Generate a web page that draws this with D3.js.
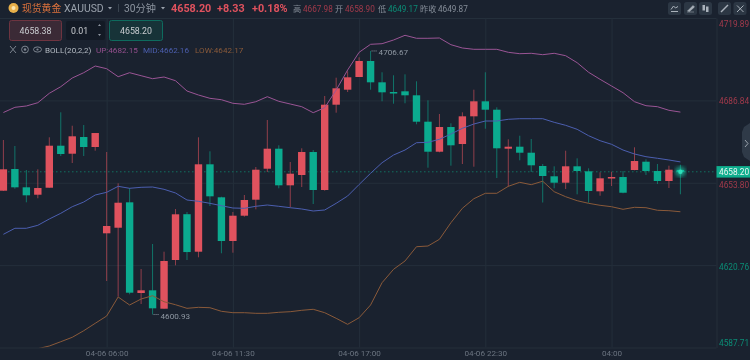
<!DOCTYPE html>
<html>
<head>
<meta charset="utf-8">
<script src="https://cdn.jsdelivr.net/npm/d3@7"></script>
<style>
html, body { margin: 0; padding: 0; background: #1a222f; overflow: hidden; }
svg { display: block; filter: blur(0.3px); }
text { font-family: Roboto, "Noto Sans CJK SC", sans-serif; }
</style>
</head>
<body>
<svg id="chart" width="750" height="360"></svg>
<script>
const opens = [4650.61,4659.31,4651.97,4649.0,4651.81,4668.66,4665.45,4672.15,4668.14,4633.52,4635.76,4645.95,4609.57,4610.65,4603.27,4622.81,4641.18,4626.14,4661.2,4647.96,4630.43,4640.58,4647.0,4659.43,4667.46,4652.77,4656.91,4666.13,4650.89,4685.11,4691.13,4696.22,4702.64,4694.09,4690.2,4690.48,4688.88,4678.29,4666.25,4676.16,4669.34,4680.45,4686.47,4683.1,4667.46,4668.26,4665.85,4660.52,4656.39,4653.82,4660.4,4658.39,4650.37,4655.7,4656.1,4658.91,4662.24,4658.51,4654.5,4658.9];
const highs = [4670.95,4668.54,4658.91,4659.19,4672.03,4682.06,4676.68,4676.96,4673.75,4666.13,4653.58,4651.69,4619.2,4629.23,4626.14,4643.27,4642.06,4672.03,4666.41,4648.2,4642.06,4648.88,4660.12,4678.97,4668.82,4662.12,4667.62,4666.93,4688.6,4695.94,4698.51,4704.12,4706.67,4698.11,4696.9,4697.3,4694.49,4686.87,4681.38,4677.65,4682.06,4691.13,4698.11,4684.06,4671.23,4672.67,4671.35,4661.32,4660.4,4666.65,4663.6,4659.59,4657.99,4658.23,4658.51,4668.02,4663.2,4661.32,4660.64,4661.04];
const lows = [4650.49,4651.41,4645.95,4647.56,4651.81,4664.53,4661.72,4664.53,4666.65,4614.38,4608.09,4609.05,4605.15,4600.93,4603.27,4620.68,4622.81,4623.89,4644.47,4625.5,4625.74,4640.18,4643.15,4658.11,4651.57,4643.95,4652.09,4645.27,4650.61,4681.9,4690.2,4696.22,4691.13,4686.47,4685.51,4685.67,4677.25,4659.84,4666.01,4660.64,4661.32,4660.24,4675.48,4655.7,4652.21,4662.8,4658.11,4645.87,4651.57,4651.29,4649.16,4645.79,4648.6,4652.49,4649.56,4658.79,4656.91,4653.3,4651.69,4649.17];
const closes = [4659.19,4651.97,4648.76,4651.69,4668.66,4665.33,4672.43,4668.14,4673.75,4636.45,4645.79,4609.69,4610.65,4603.43,4622.41,4641.14,4626.0,4661.2,4648.36,4630.43,4640.58,4646.88,4659.03,4667.46,4652.77,4657.43,4666.13,4650.89,4685.11,4691.69,4696.1,4702.64,4694.09,4690.08,4689.8,4688.88,4678.29,4666.25,4676.16,4668.82,4680.45,4686.47,4683.1,4667.62,4668.26,4665.85,4660.8,4656.51,4653.82,4660.4,4658.51,4650.49,4655.58,4656.1,4649.8,4662.52,4658.51,4654.5,4659.03,4658.2];
const bollUp = [4681.98,4684.06,4684.59,4685.91,4689.68,4692.33,4695.82,4697.95,4700.63,4699.55,4696.34,4697.95,4696.74,4695.54,4696.22,4694.73,4690.6,4689,4687.67,4687.11,4685.67,4685.27,4686.31,4688.32,4686.47,4685.39,4684.31,4681.9,4683.9,4691.0,4699.03,4706.13,4709.34,4709.58,4711.06,4712.95,4711.75,4711.75,4711.87,4709.18,4707.85,4707.33,4707.33,4707.33,4706.13,4705.57,4705.73,4705.17,4705.73,4704.77,4701.96,4698.11,4695.3,4692.61,4689.92,4686.31,4684.71,4684.31,4682.86,4682.15];
const bollMid = [4633.12,4635.53,4635.53,4636.73,4639.26,4641.54,4644.19,4646.07,4648.88,4649.97,4652.37,4651.57,4651.97,4652.09,4651.17,4649.69,4646.88,4646.36,4645.55,4644.59,4643.67,4643.55,4644.35,4644.87,4644.35,4643.79,4643.27,4642.47,4642.87,4645.55,4648.48,4653.1,4657.59,4661.84,4664.93,4666.93,4669.86,4670.02,4671.23,4673.35,4675.64,4677.36,4678.57,4678.57,4679.25,4679.49,4679.49,4679.49,4678.05,4676.84,4675.24,4672.67,4670.67,4669.22,4666.93,4665.33,4664.25,4663.61,4662.93,4662.16];
const bollLow = [4582.69,4584.3,4585.9,4587.23,4588.31,4590.03,4591.8,4594.44,4597.41,4600.34,4607.97,4604.76,4607.16,4608.49,4606.08,4604.87,4603.43,4603.83,4603.67,4602.23,4601.67,4601.67,4601.42,4601.42,4601.83,4602.07,4602.63,4603.03,4601.67,4599.42,4597.0,4599.66,4604.76,4613.7,4619.08,4622.41,4628.14,4628.42,4631.11,4637.77,4643.55,4647.4,4649.57,4649.57,4652.37,4653.98,4653.02,4654.42,4650.21,4648.2,4646.6,4645.55,4644.75,4644.19,4643.15,4643.95,4643.79,4642.75,4642.59,4642.17];

const priceTicks = [4719.89, 4686.84, 4653.80, 4620.76, 4587.71];
const priceTickColors = ["#a23a4b", "#a23a4b", "#a23a4b", "#0b8c75", "#0b8c75"];
const priceTickShift = [8.5, 3.5, 4.5, 4.5, -2];
const timeTickIndex = [9, 20, 31, 42, 53];
const timeTickLabels = ["04-06 06:00", "04-06 11:30", "04-06 17:00", "04-06 22:30", "04:00"];
const lastPrice = 4658.20;
const highMark = { index: 32, price: 4706.67 };
const lowMark = { index: 13, price: 4600.93 };

const RED = "#e0525e", GREEN = "#0bab8f", GRID = "#242f3b";

const svg = d3.select("#chart");
const plotRight = 716.5, plotTop = 18, plotBottom = 347.5;

const x = d3.scaleLinear().domain([0, 59]).range([3.4, 680.4]);
const y = d3.scaleLinear().domain([4587.71, 4719.89]).range([plotBottom, plotTop]);

// grid + axes
const yAxis = svg.append("g")
    .attr("transform", `translate(${plotRight},0)`)
    .call(d3.axisRight(y).tickValues(priceTicks).tickSize(0).tickPadding(2.5).tickFormat(d3.format(".2f")));
yAxis.select(".domain").attr("stroke", GRID);
yAxis.selectAll(".tick line").attr("x2", -plotRight).attr("stroke", GRID);
yAxis.selectAll(".tick text")
    .attr("fill", (d, i) => priceTickColors[i])
    .style("font-size", "8.3px")
    .attr("dy", (d, i) => priceTickShift[i]);

const xAxis = svg.append("g")
    .attr("transform", `translate(0,${plotBottom})`)
    .call(d3.axisBottom(x).tickValues(timeTickIndex).tickSize(0).tickPadding(3).tickFormat((d, i) => timeTickLabels[i]));
xAxis.select(".domain").remove();
xAxis.selectAll(".tick line").attr("y2", plotTop - plotBottom).attr("stroke", GRID);
xAxis.selectAll(".tick text").attr("fill", "#6b7480").style("font-size", "8.1px");

svg.append("clipPath").attr("id", "plot-clip")
    .append("rect").attr("x", 0).attr("y", plotTop).attr("width", plotRight).attr("height", plotBottom - plotTop);

const g = svg.append("g").attr("clip-path", "url(#plot-clip)");

// last price dotted line
g.append("line")
    .attr("x1", 0).attr("x2", plotRight)
    .attr("y1", y(lastPrice)).attr("y2", y(lastPrice))
    .attr("stroke", "#12705f").attr("stroke-dasharray", "1.5,2.5");

// candles
const candles = d3.range(opens.length);
const color = i => closes[i] >= opens[i] ? RED : GREEN;

g.selectAll(".wick").data(candles).enter().append("line")
    .attr("class", "wick")
    .attr("x1", d => x(d)).attr("x2", d => x(d))
    .attr("y1", d => y(highs[d])).attr("y2", d => y(lows[d]))
    .attr("stroke", color).attr("stroke-opacity", 0.6);

g.selectAll(".body").data(candles).enter().append("rect")
    .attr("class", "body")
    .attr("x", d => x(d) - 3.7)
    .attr("width", 7.4)
    .attr("y", d => y(Math.max(opens[d], closes[d])))
    .attr("height", d => Math.max(1.5, Math.abs(y(opens[d]) - y(closes[d]))))
    .attr("fill", color);

// bollinger lines
const line = d3.line().x((d, i) => x(i)).y(d => y(d));
[[bollUp, "#9a5595"], [bollMid, "#4c5fb0"], [bollLow, "#8a5a3a"]].forEach(([vals, c]) => {
    g.append("path").attr("d", line(vals)).attr("fill", "none").attr("stroke", c).attr("stroke-width", 1);
});

// glow on the live candle
const defs = svg.append("defs");
defs.append("filter").attr("id", "glow").append("feGaussianBlur").attr("stdDeviation", 2);
svg.append("circle").attr("cx", x(59)).attr("cy", y(lastPrice)).attr("r", 5)
    .attr("fill", "#19d6ae").attr("opacity", 0.7).attr("filter", "url(#glow)");
svg.append("circle").attr("cx", x(59)).attr("cy", y(lastPrice)).attr("r", 2.2).attr("fill", "#2fe0bb");

// high / low marks
function mark(m) {
    const px = x(m.index), py = y(m.price);
    svg.append("line").attr("x1", px + 1).attr("x2", px + 7).attr("y1", py).attr("y2", py)
        .attr("stroke", "#8c95a0").attr("stroke-dasharray", "1,1");
    svg.append("text").attr("x", px + 8).attr("y", py + 4.2).attr("fill", "#8f98a3")
        .style("font-size", "8.1px").text(m.price.toFixed(2));
}
mark(highMark);
mark(lowMark);

// price tag
svg.append("rect").attr("x", plotRight).attr("y", y(lastPrice) - 5.7).attr("width", 34).attr("height", 11.5).attr("fill", "#0fae8e");
svg.append("text").attr("x", 719).attr("y", y(lastPrice) + 3).attr("fill", "#eaf6f3")
    .style("font-size", "8.3px").text(lastPrice.toFixed(2));

// side handle
svg.append("path").attr("d", "M750,123 L744,127 L742,132 L742,152 L744,157 L750,161 Z").attr("fill", "#2f3a48");
svg.append("path").attr("d", "M745,140 L748,143.5 L745,147").attr("fill", "none").attr("stroke", "#9aa3ad").attr("stroke-width", 1);

// header
function label(tx, ty, s, fill, size, weight) {
    return svg.append("text").attr("x", tx).attr("y", ty).attr("fill", fill)
        .style("font-size", size + "px").style("font-weight", weight || 400).text(s);
}
svg.append("circle").attr("cx", 13.5).attr("cy", 8).attr("r", 5).attr("fill", "#e8b04a");
svg.append("circle").attr("cx", 13.5).attr("cy", 8).attr("r", 2).attr("fill", "#fbe6b0");
label(22, 12, "现货黄金", "#d9713c", 9.8);
label(64, 12, "XAUUSD", "#9aa2ac", 10.4);
svg.append("path").attr("d", "M108,7 L112,7 L110,9.5 Z").attr("fill", "#9aa2ac");
svg.append("line").attr("x1", 118.5).attr("x2", 118.5).attr("y1", 4).attr("y2", 12).attr("stroke", "#3a4450");
label(124, 12, "30分钟", "#8d95a0", 10.2);
svg.append("path").attr("d", "M161,7 L165,7 L163,9.5 Z").attr("fill", "#9aa2ac");
label(171, 12, "4658.20", "#e0525e", 10.8, 700);
label(217, 12, "+8.33", "#e0525e", 10.8, 700);
label(252, 12, "+0.18%", "#e0525e", 10.8, 700);
label(293, 12, "高", "#858d98", 8.2);
label(303, 12, "4667.98", "#a23a4b", 8.2);
label(335, 12, "开", "#858d98", 8.2);
label(345, 12, "4658.90", "#a23a4b", 8.2);
label(378, 12, "低", "#858d98", 8.2);
label(388, 12, "4649.17", "#0b8c75", 8.2);
label(420, 12, "昨收", "#858d98", 8.2);
label(438, 12, "4649.87", "#858d98", 8.2);

// order boxes
svg.append("rect").attr("x", 9.5).attr("y", 20.5).attr("width", 52).attr("height", 20).attr("rx", 2)
    .attr("fill", "#3b2a36").attr("stroke", "#6e3440");
label(35.5, 34, "4658.38", "#c9ccd0", 8.8).attr("text-anchor", "middle");
svg.append("rect").attr("x", 66).attr("y", 21).attr("width", 39).attr("height", 19).attr("rx", 2).attr("fill", "#131a25");
label(71, 34, "0.01", "#c9ccd0", 8.8);
svg.append("path").attr("d", "M98,26 L101,26 L99.5,24 Z M98,34 L101,34 L99.5,36 Z").attr("fill", "#8d95a0");
svg.append("rect").attr("x", 109.5).attr("y", 20.5).attr("width", 53).attr("height", 20).attr("rx", 2)
    .attr("fill", "#173338").attr("stroke", "#0e6b5e");
label(136, 34, "4658.20", "#c9ccd0", 8.8).attr("text-anchor", "middle");

// legend
svg.append("path").attr("d", "M10,46 L16,53 M16,46 L10,53").attr("stroke", "#7d8590").attr("fill", "none");
svg.append("circle").attr("cx", 25).attr("cy", 49.5).attr("r", 3.4).attr("fill", "none").attr("stroke", "#7d8590");
svg.append("circle").attr("cx", 25).attr("cy", 49.5).attr("r", 1.3).attr("fill", "#7d8590");
svg.append("ellipse").attr("cx", 37.5).attr("cy", 49.5).attr("rx", 4).attr("ry", 2.6).attr("fill", "none").attr("stroke", "#7d8590");
svg.append("circle").attr("cx", 37.5).attr("cy", 49.5).attr("r", 1.1).attr("fill", "#7d8590");
label(45, 52.8, "BOLL(20,2,2)", "#b4bbc3", 8.1);
label(96, 52.8, "UP:4682.15", "#96508f", 8.1);
label(143, 52.8, "MID:4662.16", "#4c5fb0", 8.1);
label(195, 52.8, "LOW:4642.17", "#8a5a3a", 8.1);

// toolbar buttons
const toolButtons = [668, 684, 699, 718, 733.5];
svg.selectAll(".tool").data(toolButtons).enter().append("rect")
    .attr("class", "tool").attr("x", d => d).attr("y", 2).attr("width", 13).attr("height", 13).attr("rx", 2.5)
    .attr("fill", "#2c3744");
const ICON = "#aab2bb";
svg.append("path").attr("d", "M671,11.5 H678 M671,9.5 L673.5,6 L675.5,8 L678,6.5").attr("fill", "none").attr("stroke", ICON);
svg.append("path").attr("d", "M687.5,11 L693,5.5 L694.5,7 L689.5,11.5 Z M687,12 H694").attr("fill", ICON).attr("stroke", ICON).attr("stroke-width", 0.5);
svg.append("rect").attr("x", 702.5).attr("y", 5).attr("width", 2.5).attr("height", 5.5).attr("fill", ICON);
svg.append("rect").attr("x", 706).attr("y", 6.5).attr("width", 2.5).attr("height", 5.5).attr("fill", ICON);
svg.append("path").attr("d", "M721,12 L728,5").attr("stroke", ICON).attr("stroke-width", 1.4);
svg.append("path").attr("d", "M737,5.5 L743.5,12 M743.5,5.5 L737,12").attr("stroke", ICON).attr("fill", "none");
</script>
</body>
</html>
